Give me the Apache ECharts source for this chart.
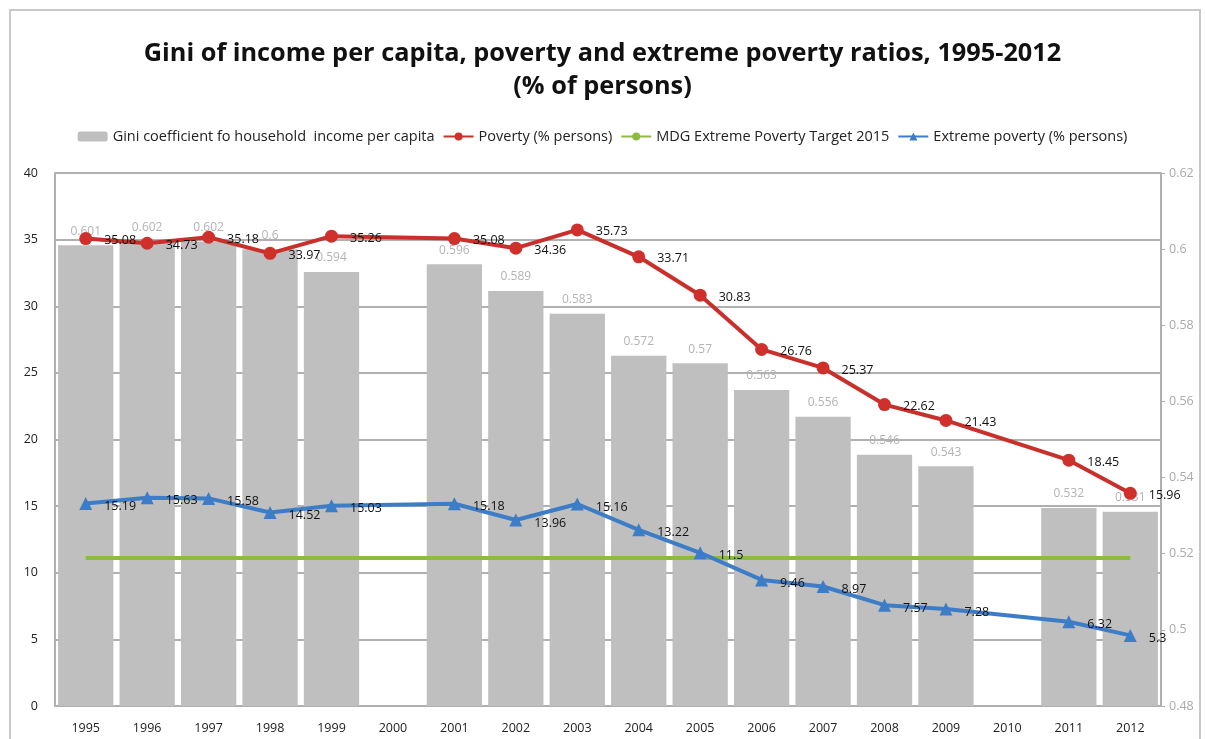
<!DOCTYPE html>
<html><head><meta charset="utf-8">
<script src="https://cdn.jsdelivr.net/npm/echarts@6/dist/echarts.min.js"></script>
<style>html,body{margin:0;padding:0;background:#fff}#c{width:1205px;height:739px}</style>
</head><body><div id="c"></div>
<script>
const years = ['1995','1996','1997','1998','1999','2000','2001','2002','2003','2004','2005','2006','2007','2008','2009','2010','2011','2012'];
const gini = [0.601,0.602,0.602,0.6,0.594,null,0.596,0.589,0.583,0.572,0.57,0.563,0.556,0.546,0.543,null,0.532,0.531];
const poverty = [35.08,34.73,35.18,33.97,35.26,null,35.08,34.36,35.73,33.71,30.83,26.76,25.37,22.62,21.43,null,18.45,15.96];
const extreme = [15.19,15.63,15.58,14.52,15.03,null,15.18,13.96,15.16,13.22,11.5,9.46,8.97,7.57,7.28,null,6.32,5.3];
const mdgTarget = years.map(() => 11.1);
const leftTicks = [0,5,10,15,20,25,30,35,40];
const rightTicks = [0.48,0.5,0.52,0.54,0.56,0.58,0.6,0.62];

const FONT = '"Open Sans", "Liberation Sans", sans-serif';
const chart = echarts.init(document.getElementById('c'), null, {renderer:'canvas'});
chart.setOption({
  backgroundColor:'#fff',
  animation:false,
  textStyle:{fontFamily:FONT},
  title:{
    text:'Gini of income per capita, poverty and extreme poverty ratios, 1995-2012\n(% of persons)',
    left:'center', top:32,
    textStyle:{fontFamily:FONT, fontSize:25.3, fontWeight:'bold', color:'#111', lineHeight:33}
  },
  graphic:[{type:'rect', shape:{x:10,y:10,width:1190,height:740}, style:{fill:'none', stroke:'#c8c8c8', lineWidth:2}, silent:true}],
  legend:{
    top:124, left:'center', itemGap:8, itemWidth:30, itemHeight:10,
    textStyle:{fontFamily:FONT, fontSize:14.5, color:'#222'},
    data:['Gini coefficient fo household  income per capita','Poverty (% persons)','MDG Extreme Poverty Target 2015','Extreme poverty (% persons)']
  },
  grid:{left:55, right:44, top:173, bottom:33},
  xAxis:{
    type:'category', data:years,
    axisLine:{lineStyle:{color:'#b0b0b0', width:2}},
    axisTick:{show:false},
    axisLabel:{color:'#222', fontSize:12.5, margin:16, fontFamily:FONT}
  },
  yAxis:[{
    type:'value', min:0, max:40, interval:5,
    axisLine:{show:true, lineStyle:{color:'#b0b0b0', width:2}},
    axisTick:{show:false},
    axisLabel:{color:'#222', fontSize:12.5, margin:17, fontFamily:FONT},
    splitLine:{lineStyle:{color:'#b0b0b0', width:2}}
  },{
    type:'value', min:0.48, max:0.62, interval:0.02,
    axisLine:{show:true, lineStyle:{color:'#b0b0b0', width:2}},
    axisTick:{show:true, length:4, lineStyle:{color:'#b0b0b0'}},
    axisLabel:{color:'#aaa', fontSize:12.5, margin:8, fontFamily:FONT, formatter:v=>String(+v.toFixed(2))},
    splitLine:{show:false}
  }],
  series:[{
    name:'Gini coefficient fo household  income per capita',
    type:'bar', yAxisIndex:1, data:gini, barCategoryGap:'10%',
    itemStyle:{color:'#bfbfbf'},
    label:{show:true, position:'top', distance:8, color:'#b3b3b3', fontSize:12, fontFamily:FONT},
    z:2
  },{
    name:'Poverty (% persons)',
    type:'line', data:poverty, connectNulls:true,
    lineStyle:{color:'#c9302c', width:4},
    itemStyle:{color:'#d0302c'},
    symbol:'circle', symbolSize:13,
    label:{show:true, position:'right', distance:12, offset:[0,2], color:'#111', fontSize:12.5, fontFamily:FONT},
    z:5
  },{
    name:'MDG Extreme Poverty Target 2015',
    type:'line', data:mdgTarget,
    lineStyle:{color:'#8dbb3e', width:4},
    itemStyle:{color:'#8dbb3e'},
    symbol:'none', showSymbol:false,
    z:4
  },{
    name:'Extreme poverty (% persons)',
    type:'line', data:extreme, connectNulls:true,
    lineStyle:{color:'#3d7cc6', width:4},
    itemStyle:{color:'#3d7cc6'},
    symbol:'triangle', symbolSize:13,
    label:{show:true, position:'right', distance:12, offset:[0,3], color:'#111', fontSize:12.5, fontFamily:FONT},
    z:5
  }]
});
</script></body></html>
